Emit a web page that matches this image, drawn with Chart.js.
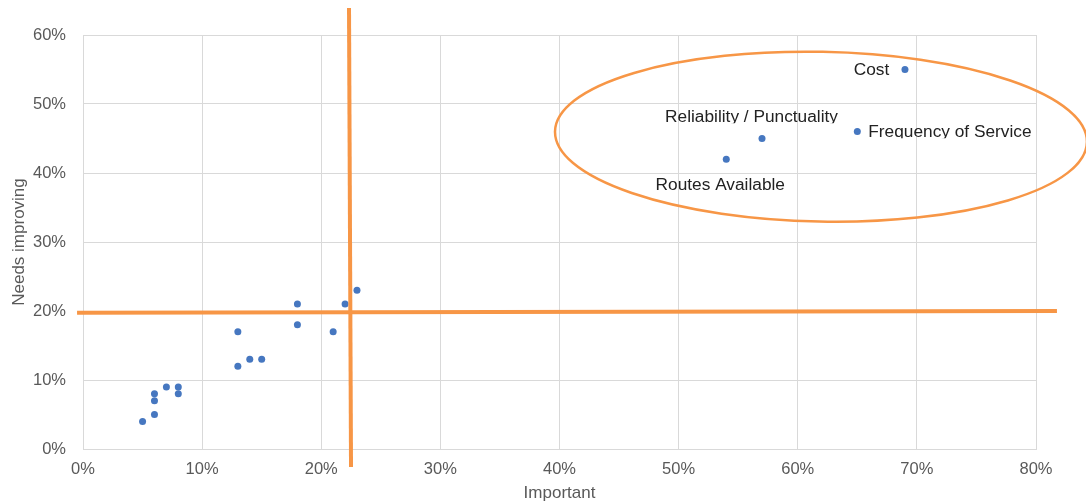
<!DOCTYPE html>
<html>
<head>
<meta charset="utf-8">
<script src="https://cdn.jsdelivr.net/npm/chart.js@4/dist/chart.umd.min.js"></script>
<style>
  html, body { margin: 0; padding: 0; background: #ffffff; }
  #wrap { width: 1086px; height: 504px; }
</style>
</head>
<body>
<div id="wrap"><canvas id="chart" width="1086" height="504"></canvas></div>
<script>
// Survey results: share saying a topic is important vs. share saying it needs improving (%)
const otherImportant = [5, 6, 6, 6, 7, 8, 8, 13, 13, 14, 15, 18, 18, 21, 22, 23];
const otherNeeds     = [4, 5, 7, 8, 9, 9, 8, 12, 17, 13, 13, 18, 21, 17, 21, 23];

const topics         = ['Cost', 'Frequency of Service', 'Reliability / Punctuality', 'Routes Available'];
const topicImportant = [69, 65, 57, 54];
const topicNeeds     = [55, 46, 45, 42];

const xTicks = [0, 10, 20, 30, 40, 50, 60, 70, 80];
const yTicks = [0, 10, 20, 30, 40, 50, 60];

// Quadrant divider lines (axis units) and the highlight ellipse
const dividerV = { x1: 22.33, y1: 63.9, x2: 22.5, y2: -2.6 };
const dividerH = { x1: -0.5, y1: 19.75, x2: 81.76, y2: 20.0 };
const highlight = { cx: 61.95, cy: 45.26, rx: 22.33, ry: 12.3 };

// Where each topic label sits around its marker (pixels)
const labelPlacement = [
  { align: 'right',  dx: -15.7, dy: -0.5 },
  { align: 'left',   dx: 11,    dy: -0.5 },
  { align: 'center', dx: -10.5, dy: -22.5 },
  { align: 'center', dx: -6,    dy: 25 }
];

const ORANGE = '#F79646';
const BLUE = '#4677C0';
const GREY_TEXT = '#595959';
const GRID = '#d9d9d9';
const FONT = '"Liberation Sans", Arial, sans-serif';

const toPoints = (xs, ys) => xs.map((x, i) => ({ x: x, y: ys[i] }));

const overlayPlugin = {
  id: 'overlay',
  afterDraw(chart) {
    const { ctx, scales: { x, y } } = chart;
    ctx.save();

    // topic labels
    const meta = chart.getDatasetMeta(1);
    const size = 17.3;
    ctx.font = size + 'px ' + FONT;
    ctx.fillStyle = '#222222';
    ctx.textBaseline = 'alphabetic';
    meta.data.forEach((pt, i) => {
      const p = labelPlacement[i];
      const baseline = pt.y + p.dy + size * 0.358;
      ctx.save();
      ctx.beginPath();
      ctx.rect(0, 0, chart.width, baseline + 1);
      ctx.clip();
      ctx.textAlign = p.align;
      ctx.fillText(topics[i], pt.x + p.dx, baseline);
      ctx.restore();
    });

    // quadrant dividers
    ctx.strokeStyle = ORANGE;
    ctx.lineWidth = 4;
    ctx.lineCap = 'butt';
    [dividerV, dividerH].forEach(l => {
      ctx.beginPath();
      ctx.moveTo(x.getPixelForValue(l.x1), y.getPixelForValue(l.y1));
      ctx.lineTo(x.getPixelForValue(l.x2), y.getPixelForValue(l.y2));
      ctx.stroke();
    });

    // highlight ellipse round the top-right group
    const cx = x.getPixelForValue(highlight.cx);
    const cy = y.getPixelForValue(highlight.cy);
    const rx = x.getPixelForValue(highlight.cx + highlight.rx) - cx;
    const ry = cy - y.getPixelForValue(highlight.cy + highlight.ry);
    ctx.lineWidth = 2.5;
    ctx.beginPath();
    ctx.ellipse(cx, cy, rx, ry, 0.02, 0, Math.PI * 2);
    ctx.stroke();

    ctx.restore();
  }
};

new Chart(document.getElementById('chart'), {
  type: 'scatter',
  data: {
    datasets: [
      {
        label: 'Other topics',
        data: toPoints(otherImportant, otherNeeds),
        backgroundColor: BLUE,
        borderWidth: 0,
        pointRadius: 3.5,
        pointHoverRadius: 3.5
      },
      {
        label: 'Key topics',
        data: toPoints(topicImportant, topicNeeds),
        backgroundColor: BLUE,
        borderWidth: 0,
        pointRadius: 3.5,
        pointHoverRadius: 3.5
      }
    ]
  },
  options: {
    responsive: false,
    animation: false,
    events: [],
    layout: { padding: { top: 35, right: 50, bottom: 0, left: 0 } },
    plugins: {
      legend: { display: false },
      tooltip: { enabled: false }
    },
    scales: {
      x: {
        type: 'linear',
        min: xTicks[0],
        max: xTicks[xTicks.length - 1],
        afterBuildTicks: s => { s.ticks = xTicks.map(v => ({ value: v })); },
        afterFit: s => { s.height = 55; },
        ticks: {
          callback: v => v + '%',
          color: GREY_TEXT,
          font: { family: FONT, size: 16.5 },
          padding: 11,
          maxRotation: 0
        },
        grid: { color: GRID, drawTicks: false, lineWidth: 1 },
        border: { color: GRID },
        title: {
          display: true,
          text: 'Important',
          color: GREY_TEXT,
          font: { family: FONT, size: 17 },
          padding: { top: 0, bottom: 0 }
        }
      },
      y: {
        type: 'linear',
        min: yTicks[0],
        max: yTicks[yTicks.length - 1],
        afterBuildTicks: s => { s.ticks = yTicks.map(v => ({ value: v })); },
        afterFit: s => { s.width = 83; },
        ticks: {
          callback: v => v + '%',
          color: GREY_TEXT,
          font: { family: FONT, size: 16.5 },
          padding: 17
        },
        grid: { color: GRID, drawTicks: false, lineWidth: 1 },
        border: { color: GRID },
        title: {
          display: true,
          text: 'Needs improving',
          color: GREY_TEXT,
          font: { family: FONT, size: 17 },
          padding: { top: 9, bottom: 0 }
        }
      }
    }
  },
  plugins: [overlayPlugin]
});
</script>
</body>
</html>
